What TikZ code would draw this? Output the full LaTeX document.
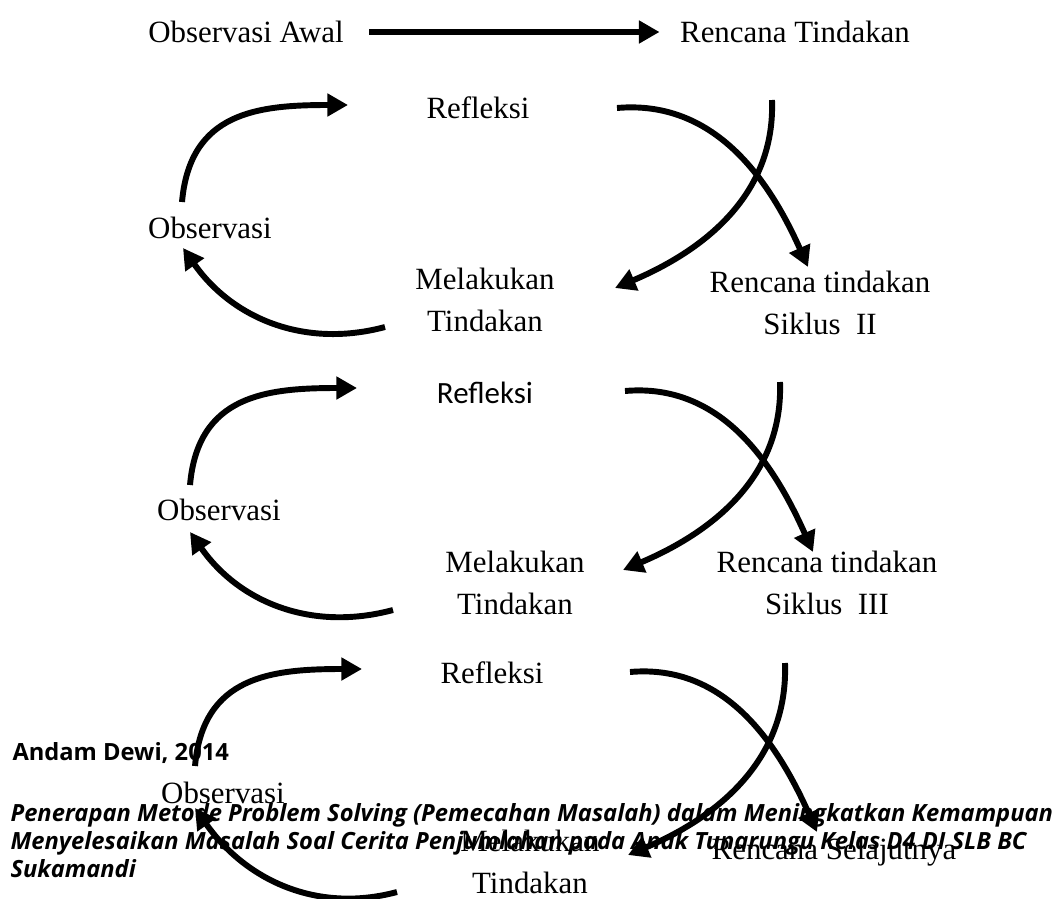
\documentclass[tikz,border=0pt]{standalone}
\usepackage{fontspec}
\setmainfont{Liberation Serif}
\newfontfamily\calibri{Carlito}
\newfontfamily\footfont{Open Sans}
\usetikzlibrary{arrows.meta,positioning}

\tikzset{
  lbl/.style={font=\fontsize{12}{16}\selectfont, align=center, inner sep=0pt},
  arr/.style={line width=2.3pt, -{Triangle[length=8pt,width=8.5pt]}},
  foot/.style={font=\footfont\bfseries\fontsize{9.2}{10.9}\selectfont, anchor=west, align=left, inner sep=0pt}
}

\begin{document}
\begin{tikzpicture}[x=0.3883pt,y=0.3883pt]
\useasboundingbox (0,0) rectangle (1062,898);

% awal
\node[lbl] (awal) at (246,866) {Observasi Awal};
\node[lbl] (rencana) at (795,866) {Rencana Tindakan};
\draw[arr, shorten <=9.7pt, shorten >=7.8pt] (awal) -- (rencana);

% siklus I
\node[lbl] (ref1) at (478,790) {Refleksi};
\node[lbl] (obs1) at (210,670) {Observasi};
\node[lbl] (mel1) at (485,598) {Melakukan\\Tindakan};
\node[lbl] (ren1) at (820,595) {Rencana tindakan\\Siklus\ \ II};
\coordinate (a1) at (182,696); \coordinate (a2) at (348,793);
\coordinate (a3) at (385,571); \coordinate (a4) at (183,650);
\coordinate (a5) at (617,790); \coordinate (a6) at (808,631);
\coordinate (a7) at (772,798); \coordinate (a8) at (615,610);
\draw[arr] (a1) to[out=85,in=180,looseness=1.2] (a2);
\draw[arr] (a3) to[out=195,in=-55] (a4);
\draw[arr] (a5) to[out=5,in=114] (a6);
\draw[arr] (a7) to[out=-88,in=23] (a8);

% siklus II
\node[lbl, font=\calibri\fontsize{12}{16}\selectfont] (ref2) at (485,505) {Refleksi};
\node[lbl] (obs2) at (219,388) {Observasi};
\node[lbl] (mel2) at (515,315) {Melakukan\\Tindakan};
\node[lbl] (ren2) at (827,315) {Rencana tindakan\\Siklus\ \ III};
\coordinate (b1) at (190,413); \coordinate (b2) at (357,510);
\coordinate (b3) at (393,288); \coordinate (b4) at (190,366);
\coordinate (b5) at (625,507); \coordinate (b6) at (813,346);
\coordinate (b7) at (780,516); \coordinate (b8) at (623,328);
\draw[arr] (b1) to[out=85,in=180,looseness=1.2] (b2);
\draw[arr] (b3) to[out=195,in=-55] (b4);
\draw[arr] (b5) to[out=5,in=114] (b6);
\draw[arr] (b7) to[out=-88,in=23] (b8);

% siklus III
\node[lbl] (ref3) at (492,225) {Refleksi};
\node[lbl] (obs3) at (223,105) {Observasi};
\node[lbl] (mel3) at (530,36) {Melakukan\\Tindakan};
\node[lbl] (ren3) at (834,46) {Rencana Selajutnya};
\coordinate (c1) at (195,132); \coordinate (c2) at (362,229);
\coordinate (c3) at (397,6);   \coordinate (c4) at (195,90);
\coordinate (c5) at (630,226); \coordinate (c6) at (817,66);
\coordinate (c7) at (785,235); \coordinate (c8) at (628,43);
\draw[arr] (c1) to[out=85,in=180,looseness=1.2] (c2);
\draw[arr] (c3) to[out=195,in=-55] (c4);
\draw[arr] (c5) to[out=5,in=114] (c6);
\draw[arr] (c7) to[out=-88,in=23] (c8);

% kaki halaman
\node[foot] (penulis) at (12,145) {Andam Dewi, 2014};
\node[foot, font=\footfont\bfseries\itshape\fontsize{9.2}{10.9}\selectfont] (judul) at (10,57)
  {Penerapan Metode Problem Solving (Pemecahan Masalah) dalam Meningkatkan Kemampuan\\
   Menyelesaikan Masalah Soal Cerita Penjumlahan pada Anak Tunarungu Kelas D4 DI SLB BC\\
   Sukamandi};
\end{tikzpicture}
\end{document}
